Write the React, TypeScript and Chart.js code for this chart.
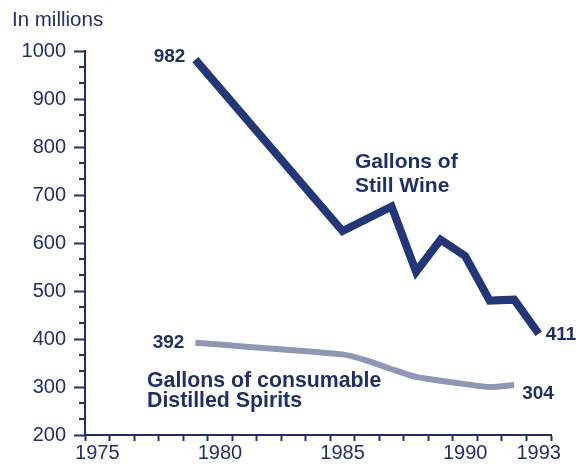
import React, { useEffect, useRef } from 'react';
import { Chart, registerables } from 'chart.js';

Chart.register(...registerables);

// ---- data ----
const years = ['1975', '1976', '1977', '1978', '1979', '1980', '1981', '1982', '1983', '1984', '1985', '1986', '1987', '1988', '1989', '1990', '1991', '1992', '1993'];
const labeledYears = ['1975', '1980', '1985', '1990', '1993'];
const stillWine = [null, null, null, null, 982, null, null, null, null, null, 625, null, 676, 540, 607, 573, 480, 482, 411];
const spirits = [null, null, null, null, 392, null, null, null, null, null, 368, 355, 337, 321, 313, 306, 300, 304, null];
const yMin = 200;
const yMax = 1000;
const yStep = 100;
const unitLabel = 'In millions';
const wineLabel = ['Gallons of', 'Still Wine'];
const spiritsLabel = ['Gallons of consumable', 'Distilled Spirits'];

const NAVY = '#1f2f6c';
const WINE = '#22367a';
const SPIRITS = '#8e97b6';
const FONT = '"Liberation Sans", Arial, Helvetica, sans-serif';

function firstIdx(arr: (number | null)[]) {
  return arr.findIndex((v) => v !== null);
}
function lastIdx(arr: (number | null)[]) {
  let i = arr.length - 1;
  while (i >= 0 && arr[i] === null) i--;
  return i;
}

const annotationPlugin = {
  id: 'annotations',
  afterDraw(chart: any) {
    const ctx = chart.ctx;
    const yScale = chart.scales.y;
    const xScale = chart.scales.x;
    ctx.save();
    // minor ticks on y axis
    ctx.strokeStyle = NAVY;
    ctx.lineWidth = 2;
    const axisX = xScale.left;
    for (let v = yMin; v < yMax; v += yStep) {
      for (let k = 1; k <= 2; k++) {
        const py = Math.round(yScale.getPixelForValue(v + (k * yStep) / 3));
        ctx.beginPath();
        ctx.moveTo(axisX - 6, py);
        ctx.lineTo(axisX, py);
        ctx.stroke();
      }
    }

    ctx.fillStyle = NAVY;
    // unit label
    ctx.font = `20.5px ${FONT}`;
    ctx.textAlign = 'left';
    ctx.textBaseline = 'alphabetic';
    ctx.fillText(unitLabel, 12, 26);

    // value labels
    const wMeta = chart.getDatasetMeta(0);
    const sMeta = chart.getDatasetMeta(1);
    ctx.font = `bold 19px ${FONT}`;
    const wf = wMeta.data[firstIdx(stillWine)];
    const wl = wMeta.data[lastIdx(stillWine)];
    const sf = sMeta.data[firstIdx(spirits)];
    const sl = sMeta.data[lastIdx(spirits)];
    ctx.textAlign = 'right';
    ctx.fillText(String(stillWine[firstIdx(stillWine)]), wf.x - 10, wf.y + 2);
    ctx.fillText(String(spirits[firstIdx(spirits)]), sf.x - 11, sf.y + 5.5);
    ctx.textAlign = 'left';
    ctx.fillText(String(stillWine[lastIdx(stillWine)]), wl.x + 7, wl.y + 6);
    ctx.fillText(String(spirits[lastIdx(spirits)]), sl.x + 8, sl.y + 14);

    // series labels
    ctx.font = `bold 21px ${FONT}`;
    ctx.fillText(wineLabel[0], 355, 168);
    ctx.fillText(wineLabel[1], 355, 192);
    ctx.font = `bold 21.3px ${FONT}`;
    ctx.fillText(spiritsLabel[0], 147, 387);
    ctx.fillText(spiritsLabel[1], 147, 407);
    ctx.restore();
  },
};

export default function App() {
  const ref = useRef<HTMLCanvasElement | null>(null);

  useEffect(() => {
    document.body.style.margin = '0';
    document.body.style.background = '#ffffff';
    const canvas = ref.current;
    if (!canvas) return;
    const chart = new Chart(canvas, {
      type: 'line',
      data: {
        labels: years,
        datasets: [
          {
            label: 'Gallons of Still Wine',
            data: stillWine,
            borderColor: WINE,
            borderWidth: 8,
            pointRadius: 0,
            spanGaps: true,
            tension: 0,
            borderJoinStyle: 'miter',
            borderCapStyle: 'butt',
            fill: false,
          },
          {
            label: 'Gallons of consumable Distilled Spirits',
            data: spirits,
            borderColor: SPIRITS,
            borderWidth: 6,
            pointRadius: 0,
            spanGaps: true,
            tension: 0.25,
            borderJoinStyle: 'round',
            borderCapStyle: 'butt',
            fill: false,
          },
        ],
      },
      options: {
        responsive: false,
        animation: false,
        layout: { padding: { top: 51, right: 28, bottom: 0, left: 0 } },
        plugins: {
          legend: { display: false },
          title: { display: false },
          tooltip: { enabled: false },
        },
        scales: {
          x: {
            type: 'category',
            offset: true,
            border: { display: true, color: NAVY, width: 2 },
            grid: {
              display: true,
              offset: true,
              drawOnChartArea: false,
              drawTicks: true,
              tickLength: 6,
              tickColor: NAVY,
              tickWidth: 2,
            },
            ticks: {
              autoSkip: false,
              maxRotation: 0,
              padding: 0,
              color: NAVY,
              font: { family: FONT, size: 20 },
              callback: function (_v: any, i: number) {
                return labeledYears.includes(years[i]) ? years[i] : '';
              },
            },
            afterFit: (s: any) => {
              s.height = 29;
            },
          },
          y: {
            min: yMin,
            max: yMax,
            border: { display: true, color: NAVY, width: 2 },
            grid: {
              display: true,
              drawOnChartArea: false,
              drawTicks: true,
              tickLength: 11,
              tickColor: NAVY,
              tickWidth: 2,
            },
            ticks: {
              stepSize: yStep,
              padding: 8,
              color: NAVY,
              font: { family: FONT, size: 20 },
              callback: (v: any) => String(v),
            },
            afterFit: (s: any) => {
              s.width = 85;
            },
          },
        },
      },
      plugins: [annotationPlugin],
    });
    return () => chart.destroy();
  }, []);

  return (
    <div style={{ width: 579, height: 464, background: '#fff' }}>
      <canvas ref={ref} width={579} height={464} style={{ display: 'block', width: 579, height: 464 }} />
    </div>
  );
}
